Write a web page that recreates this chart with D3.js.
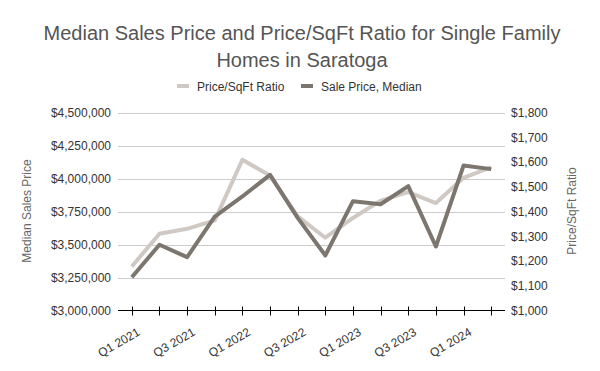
<!DOCTYPE html>
<html lang="en">
<head>
  <meta charset="UTF-8">
  <title>Saratoga</title>
  <style>
    body { margin: 0; background: #fff; font-family: "Liberation Sans", Arial, sans-serif; }
    svg { display: block; }
  </style>
</head>
<body>
  <svg id="chart" width="600" height="371"></svg>
  <script src="https://d3js.org/d3.v7.min.js"></script>
  <script>
    // quarters, Q1 2021 .. Q2 2024
    const quarters = ['Q1 2021', 'Q2 2021', 'Q3 2021', 'Q4 2021', 'Q1 2022', 'Q2 2022', 'Q3 2022',
      'Q4 2022', 'Q1 2023', 'Q2 2023', 'Q3 2023', 'Q4 2023', 'Q1 2024', 'Q2 2024']
    const salePrice = [3252000, 3498000, 3404000, 3712000, 3864000, 4028000, 3702000,
      3417000, 3828000, 3805000, 3942000, 3485000, 4098000, 4071000]
    const pricePerSqFt = [1178, 1310, 1330, 1364, 1609, 1545, 1380, 1294, 1374, 1444, 1478, 1434, 1536, 1579]
    const leftTicks = [3000000, 3250000, 3500000, 3750000, 4000000, 4250000, 4500000]
    const rightTicks = [1000, 1100, 1200, 1300, 1400, 1500, 1600, 1700, 1800]

    const lightColor = '#cfc8c3'
    const darkColor = '#7d766f'

    const svg = d3.select('#chart')
    const pLeft = 118, pRight = 505, pTop = 112.5, pBottom = 310.5

    const x = d3.scaleBand().domain(quarters).range([pLeft, pRight])
    const yL = d3.scaleLinear().domain([3000000, 4500000]).range([pBottom, pTop])
    const yR = d3.scaleLinear().domain([1000, 1800]).range([pBottom, pTop])
    const cx = d => x(d) + x.bandwidth() / 2

    // title
    const title = svg.append('text')
      .attr('text-anchor', 'middle')
      .attr('fill', '#555')
      .attr('font-size', 20)
    title.append('tspan').attr('x', 302).attr('y', 40).text('Median Sales Price and Price/SqFt Ratio for Single Family')
    title.append('tspan').attr('x', 302).attr('y', 67).text('Homes in Saratoga')

    // legend
    const legend = [
      { name: 'Price/SqFt Ratio', color: lightColor, x: 177 },
      { name: 'Sale Price, Median', color: darkColor, x: 301 }
    ]
    const lg = svg.append('g').selectAll('g').data(legend).join('g')
      .attr('transform', d => `translate(${d.x}, 86)`)
    lg.append('rect').attr('x', 0).attr('y', -2).attr('width', 12).attr('height', 4).attr('fill', d => d.color)
    lg.append('text').attr('x', 20).attr('y', 4.5).attr('font-size', 12).attr('fill', '#333').text(d => d.name)

    // gridlines
    svg.append('g').selectAll('line').data(leftTicks.slice(1)).join('line')
      .attr('x1', pLeft).attr('x2', pRight)
      .attr('y1', d => Math.round(yL(d)) + 0.5).attr('y2', d => Math.round(yL(d)) + 0.5)
      .attr('stroke', '#ccc')

    // left axis
    const leftAxis = svg.append('g')
      .attr('transform', `translate(${pLeft}, 0)`)
      .call(d3.axisLeft(yL).tickValues(leftTicks).tickSize(0).tickPadding(7)
        .tickFormat(d => '$' + d3.format(',')(d)))
    leftAxis.select('.domain').remove()
    leftAxis.selectAll('text').attr('font-size', 12).attr('fill', '#333').attr('font-family', 'Liberation Sans, Arial, sans-serif')

    // right axis
    const rightAxis = svg.append('g')
      .attr('transform', `translate(${pRight}, 0)`)
      .call(d3.axisRight(yR).tickValues(rightTicks).tickSize(0).tickPadding(6)
        .tickFormat(d => '$' + d3.format(',')(d)))
    rightAxis.select('.domain').remove()
    rightAxis.selectAll('text').attr('font-size', 12).attr('fill', '#333').attr('font-family', 'Liberation Sans, Arial, sans-serif')

    // axis titles
    svg.append('text')
      .attr('transform', `translate(31, 211) rotate(-90)`)
      .attr('text-anchor', 'middle').attr('font-size', 12).attr('fill', '#666')
      .text('Median Sales Price')
    svg.append('text')
      .attr('transform', `translate(576, 211) rotate(-90)`)
      .attr('text-anchor', 'middle').attr('font-size', 12).attr('fill', '#666')
      .text('Price/SqFt Ratio')

    // x axis
    const xAxis = svg.append('g').attr('transform', `translate(0, ${pBottom})`)
    xAxis.append('line').attr('x1', pLeft).attr('x2', pRight).attr('stroke', '#000')
    xAxis.selectAll('.tk').data(quarters).join('line').attr('class', 'tk')
      .attr('x1', d => Math.round(cx(d)) + 0.5).attr('x2', d => Math.round(cx(d)) + 0.5)
      .attr('y1', -4).attr('y2', 5).attr('stroke', '#000')
    xAxis.selectAll('text').data(quarters.filter((d, i) => i % 2 === 0)).join('text')
      .attr('transform', d => `translate(${cx(d) + 9}, 24) rotate(-30)`)
      .attr('text-anchor', 'end').attr('font-size', 12).attr('fill', '#333')
      .text(d => d)

    // lines
    const lineL = d3.line().x((d, i) => cx(quarters[i])).y(d => yR(d))
    const lineD = d3.line().x((d, i) => cx(quarters[i])).y(d => yL(d))
    svg.append('path').datum(pricePerSqFt).attr('d', lineL)
      .attr('fill', 'none').attr('stroke', lightColor).attr('stroke-width', 4).attr('stroke-linejoin', 'round')
    svg.append('path').datum(salePrice).attr('d', lineD)
      .attr('fill', 'none').attr('stroke', darkColor).attr('stroke-width', 4).attr('stroke-linejoin', 'round')
  </script>
</body>
</html>
